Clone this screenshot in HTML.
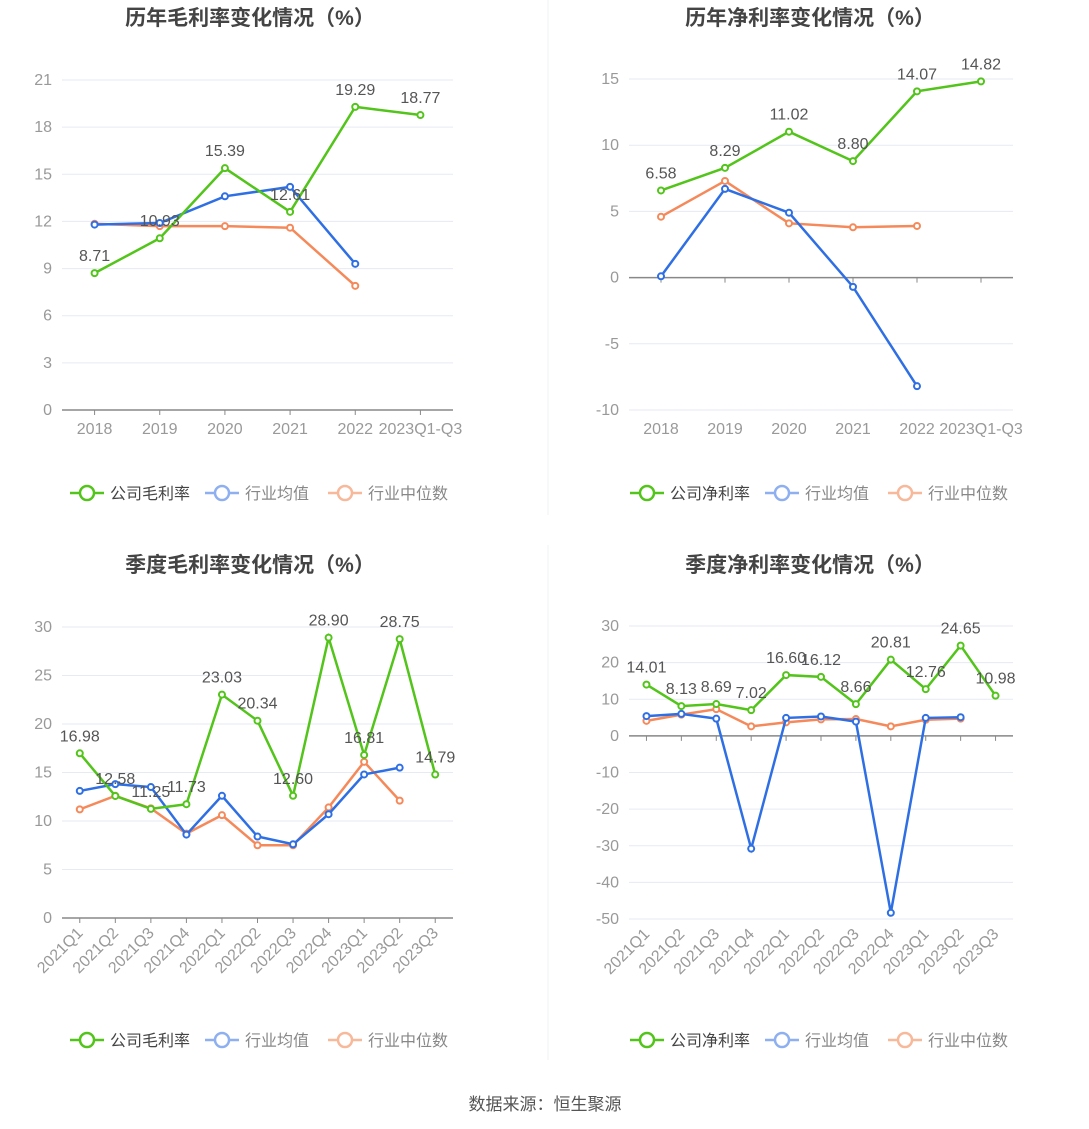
<!DOCTYPE html>
<html><head><meta charset="utf-8">
<style>
body{margin:0;background:#fff;width:1089px;height:1129px;overflow:hidden;font-family:"Liberation Sans","Noto Sans CJK SC",sans-serif;}
svg{position:absolute;left:0;top:0}
</style></head>
<body>
<svg id="c" width="1089" height="1129"></svg>
<script>
const annualCats=["2018","2019","2020","2021","2022","2023Q1-Q3"];
const quarterCats=["2021Q1","2021Q2","2021Q3","2021Q4","2022Q1","2022Q2","2022Q3","2022Q4","2023Q1","2023Q2","2023Q3"];
const grossCompany=[8.71,10.93,15.39,12.61,19.29,18.77];
const grossAvg=[11.8,11.9,13.6,14.2,9.3];
const grossMedian=[11.85,11.7,11.7,11.6,7.9];
const grossTicks=[0,3,6,9,12,15,18,21];
const netCompany=[6.58,8.29,11.02,8.80,14.07,14.82];
const netAvg=[0.1,6.7,4.9,-0.7,-8.2];
const netMedian=[4.6,7.3,4.1,3.8,3.9];
const netTicks=[-10,-5,0,5,10,15];
const qGrossCompany=[16.98,12.58,11.25,11.73,23.03,20.34,12.60,28.90,16.81,28.75,14.79];
const qGrossAvg=[13.1,13.8,13.5,8.6,12.6,8.4,7.6,10.7,14.8,15.5];
const qGrossMedian=[11.2,12.6,11.3,8.7,10.6,7.5,7.5,11.4,16.1,12.1];
const qGrossTicks=[0,5,10,15,20,25,30];
const qNetCompany=[14.01,8.13,8.69,7.02,16.60,16.12,8.66,20.81,12.76,24.65,10.98];
const qNetAvg=[5.4,6.0,4.7,-30.8,4.9,5.3,3.9,-48.3,4.9,5.1];
const qNetMedian=[4.1,5.8,7.3,2.6,3.7,4.5,4.6,2.6,4.4,4.7];
const qNetTicks=[-50,-40,-30,-20,-10,0,10,20,30];

const NS="http://www.w3.org/2000/svg";
const svg=document.getElementById('c');
function el(tag,attrs,parent,text){const e=document.createElementNS(NS,tag);for(const k in attrs)e.setAttribute(k,attrs[k]);if(text!==undefined)e.textContent=text;(parent||svg).appendChild(e);return e;}
const GREEN="#52c41a",BLUE="#2f6fe4",ORANGE="#f5895a";

function drawChart(o){
  const g=el('g',{});
  
  
  const t=el('text',{x:o.cx,y:o.titleY,'text-anchor':'middle','font-size':21,'font-weight':'bold',fill:'#444'},g,o.title);
  
  
  const ymin=o.ticks[0],ymax=o.ticks[o.ticks.length-1];
  const ys=v=>o.y0+(v-ymin)/(ymax-ymin)*(o.y1-o.y0);
  const n=o.cats.length,step=(o.x1-o.x0)/n;
  const xs=i=>o.x0+step*(i+0.5);
  o.ticks.forEach(v=>{
    const gl=el('line',{x1:o.x0,x2:o.x1,y1:ys(v),y2:ys(v),stroke:'#e6eaf3','stroke-width':1},g);
    
    
    const tl=el('text',{x:o.x0-10,y:ys(v)+5,'text-anchor':'end','font-size':16,fill:'#999'},g,String(v));
    
    
  });
  const ax=el('line',{x1:o.x0,x2:o.x1,y1:ys(0),y2:ys(0),stroke:'#888','stroke-width':1.5},g);
  
  
  o.cats.forEach((c,i)=>{
    el('line',{x1:xs(i),x2:xs(i),y1:ys(0),y2:ys(0)+5,stroke:'#888'},g);
    let lab;
    if(o.rotate){
      const bx=xs(i)+4,by=ys(ymin)+16;
      lab=el('text',{x:bx,y:by,'text-anchor':'end','font-size':16,fill:'#999',transform:`rotate(-45 ${bx} ${by})`},g,c);
    }else{
      lab=el('text',{x:xs(i),y:ys(ymin)+24,'text-anchor':'middle','font-size':16,fill:'#999'},g,c);
    }
    
    
  });
  const series=[[o.median,ORANGE,'series-industry-median'],[o.avg,BLUE,'series-industry-average'],[o.company,GREEN,'series-company']];
  series.forEach(([d,col,nm])=>{
    const sg=el('g',{},g);
    
    
    el('polyline',{points:d.map((v,i)=>xs(i)+','+ys(v)).join(' '),fill:'none',stroke:col,'stroke-width':2.5},sg);
    d.forEach((v,i)=>{
      const p=el('circle',{cx:xs(i),cy:ys(v),r:3,fill:'#fff',stroke:col,'stroke-width':2},sg);
      
      
    });
  });
  o.company.forEach((v,i)=>{
    const l=el('text',{x:xs(i),y:ys(v)-12,'text-anchor':'middle','font-size':16,fill:'#555'},g,v.toFixed(2));
    
    
  });
  const lx=o.cx-180,ly=o.legendY;
  const items=[[o.companyLabel,GREEN],['行业均值','#8fb0f0'],['行业中位数','#f8b89a']];
  const offs=[0,135,258];
  items.forEach(([txt,col],k)=>{
    const lg=el('g',{},g);
    
    
    const x=lx+offs[k];
    el('line',{x1:x,x2:x+34,y1:ly,y2:ly,stroke:col,'stroke-width':2.5},lg);
    el('circle',{cx:x+17,cy:ly,r:7,fill:'#fff',stroke:col,'stroke-width':2.5},lg);
    el('text',{x:x+40,y:ly+6,'font-size':16,fill:k===0?'#444':'#888'},lg,txt);
  });
}
drawChart({name:'annual-gross-margin-chart',title:'历年毛利率变化情况（%）',cx:250,titleY:25,cats:annualCats,ticks:grossTicks,x0:62,x1:453,y0:410,y1:80,company:grossCompany,avg:grossAvg,median:grossMedian,companyLabel:'公司毛利率',legendY:493,rotate:false});
drawChart({name:'annual-net-margin-chart',title:'历年净利率变化情况（%）',cx:810,titleY:25,cats:annualCats,ticks:netTicks,x0:629,x1:1013,y0:410,y1:79,company:netCompany,avg:netAvg,median:netMedian,companyLabel:'公司净利率',legendY:493,rotate:false});
drawChart({name:'quarterly-gross-margin-chart',title:'季度毛利率变化情况（%）',cx:250,titleY:572,cats:quarterCats,ticks:qGrossTicks,x0:62,x1:453,y0:918,y1:627,company:qGrossCompany,avg:qGrossAvg,median:qGrossMedian,companyLabel:'公司毛利率',legendY:1040,rotate:true});
drawChart({name:'quarterly-net-margin-chart',title:'季度净利率变化情况（%）',cx:810,titleY:572,cats:quarterCats,ticks:qNetTicks,x0:629,x1:1013,y0:919,y1:626,company:qNetCompany,avg:qNetAvg,median:qNetMedian,companyLabel:'公司净利率',legendY:1040,rotate:true});
const d1=el('line',{x1:548,x2:548,y1:0,y2:515,stroke:'#eef0f4'});


const d2=el('line',{x1:548,x2:548,y1:545,y2:1060,stroke:'#eef0f4'});


const src=el('text',{x:545,y:1110,'text-anchor':'middle','font-size':17,fill:'#555'},svg,'数据来源：恒生聚源');


</script>
</body></html>
